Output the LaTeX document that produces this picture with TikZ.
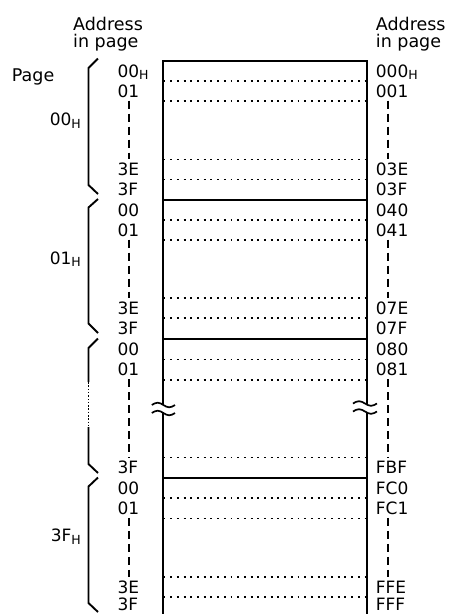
\documentclass[tikz,border=0pt]{standalone}
\usepackage{fontspec}
\setmainfont{DejaVu Sans}
\usetikzlibrary{positioning}
\newcommand{\hsub}{\raisebox{-2.5pt}{\fontsize{12.5}{12.5}\selectfont H}}
\tikzset{
  head/.style={anchor=base west, inner sep=0pt, font=\fontsize{17.5}{17.5}\selectfont},
  addr/.style={anchor=base west, inner sep=0pt, font=\fontsize{17}{17}\selectfont},
  pagelbl/.style={anchor=base east, inner sep=0pt, font=\fontsize{17}{17}\selectfont},
  frame/.style={line width=2pt, line join=miter},
  rowline/.style={line width=1.9pt, dash pattern=on 1.9pt off 4.8pt},
  gapline/.style={line width=1.9pt, dash pattern=on 8pt off 5pt, shorten <=3pt, shorten >=3.5pt},
  brace/.style={line width=1.9pt, line join=miter},
  bracedots/.style={line width=1.9pt, dash pattern=on 1.5pt off 1.8pt},
  wave/.style={line width=1.7pt}
}

\begin{document}
\begin{tikzpicture}[x=1pt,y=-1pt]
\useasboundingbox (0,0) rectangle (449,614);
\coordinate (colL) at (129.3,0);
\coordinate (colR) at (388,0);

% headings
\node[head] (hdL1) at (73,30.5) {Address};
\node[head] (hdL2) at (73,47.5) {in page};
\node[head] (hdR1) at (375.7,30.5) {Address};
\node[head] (hdR2) at (375.7,47.5) {in page};
\node[head] (pg) at (11.7,81.7) {Page};

% page numbers
\node[pagelbl] (pg00) at (81,125.7) {00\hsub};
\node[pagelbl] (pg01) at (81,264) {01\hsub};
\node[pagelbl] (pg3F) at (81,541.7) {3F\hsub};

% memory frame
\draw[frame] (162.5,405) -- (162.5,61) -- (367,61) -- (367,403.5);
\draw[frame] (162.5,413) -- (162.5,614);
\draw[frame] (367,411.5) -- (367,614);
\draw[frame] (162.5,200) -- (367,200);
\draw[frame] (162.5,338.5) -- (367,338.5);
\draw[frame] (162.5,478) -- (367,478);
\draw[rowline] (163.5,81) -- (366,81) (163.5,101) -- (366,101)
  (163.5,159.5) -- (366,159.5) (163.5,179.5) -- (366,179.5)
  (163.5,220) -- (366,220) (163.5,240) -- (366,240)
  (163.5,298) -- (366,298) (163.5,318) -- (366,318)
  (163.5,359.5) -- (366,359.5) (163.5,380) -- (366,380)
  (163.5,457.5) -- (366,457.5)
  (163.5,498) -- (366,498) (163.5,518.5) -- (366,518.5)
  (163.5,577) -- (366,577) (163.5,597) -- (366,597);

% break marks
\draw[wave] (151.8,405) sin (157.6,402.7) cos (163.4,405) sin (169.2,407.3) cos (175,405);
\draw[wave] (151.8,413) sin (157.6,410.7) cos (163.4,413) sin (169.2,415.3) cos (175,413);
\draw[wave] (353,403.5) sin (359,401.2) cos (365,403.5) sin (371,405.8) cos (377,403.5);
\draw[wave] (353,411.5) sin (359,409.2) cos (365,411.5) sin (371,413.8) cos (377,411.5);

% braces
\draw[brace] (98,58.5) -- (88.5,68) -- (88.5,185) -- (98,194);
\draw[brace] (98,199) -- (88.5,207.5) -- (88.5,323.5) -- (98,333);
\draw[brace] (98,338.5) -- (88.5,348) -- (88.5,382);
\draw[bracedots] (88.5,382) -- (88.5,427);
\draw[brace] (88.5,427) -- (88.5,464) -- (98,473);
\draw[brace] (98,477.5) -- (88.5,486.5) -- (88.5,603) -- (98,612);

% address in page
\node[addr] (L0a) at (117.3,77.2) {00\hsub};
\node[addr] (L0b) at (117.3,97.2) {01};
\node[addr] (L0e) at (117.3,175.7) {3E};
\node[addr] (L0f) at (117.3,195.9) {3F};
\node[addr] (L1a) at (117.3,216.2) {00};
\node[addr] (L1b) at (117.3,236.2) {01};
\node[addr] (L1e) at (117.3,314.2) {3E};
\node[addr] (L1f) at (117.3,334.4) {3F};
\node[addr] (L2a) at (117.3,355.2) {00};
\node[addr] (L2b) at (117.3,375.9) {01};
\node[addr] (L2f) at (117.3,473.9) {3F};
\node[addr] (L3a) at (117.3,494.2) {00};
\node[addr] (L3b) at (117.3,514.4) {01};
\node[addr] (L3e) at (117.3,593.2) {3E};
\node[addr] (L3f) at (117.3,610.5) {3F};

% absolute address
\node[addr] (R0a) at (375.7,77.2) {000\hsub};
\node[addr] (R0b) at (375.7,97.2) {001};
\node[addr] (R0e) at (375.7,175.7) {03E};
\node[addr] (R0f) at (375.7,195.9) {03F};
\node[addr] (R1a) at (375.7,216.2) {040};
\node[addr] (R1b) at (375.7,236.2) {041};
\node[addr] (R1e) at (375.7,314.2) {07E};
\node[addr] (R1f) at (375.7,334.4) {07F};
\node[addr] (R2a) at (375.7,355.2) {080};
\node[addr] (R2b) at (375.7,375.9) {081};
\node[addr] (R2f) at (375.7,473.9) {FBF};
\node[addr] (R3a) at (375.7,494.2) {FC0};
\node[addr] (R3b) at (375.7,514.4) {FC1};
\node[addr] (R3e) at (375.7,593.2) {FFE};
\node[addr] (R3f) at (375.7,610.5) {FFF};

\draw[gapline] (L0b.south -| colL) -- (L0e.north -| colL);
\draw[gapline] (L1b.south -| colL) -- (L1e.north -| colL);
\draw[gapline] (L2b.south -| colL) -- (L2f.north -| colL);
\draw[gapline] (L3b.south -| colL) -- (L3e.north -| colL);
\draw[gapline] (R0b.south -| colR) -- (R0e.north -| colR);
\draw[gapline] (R1b.south -| colR) -- (R1e.north -| colR);
\draw[gapline] (R2b.south -| colR) -- (R2f.north -| colR);
\draw[gapline] (R3b.south -| colR) -- (R3e.north -| colR);
\end{tikzpicture}
\end{document}
